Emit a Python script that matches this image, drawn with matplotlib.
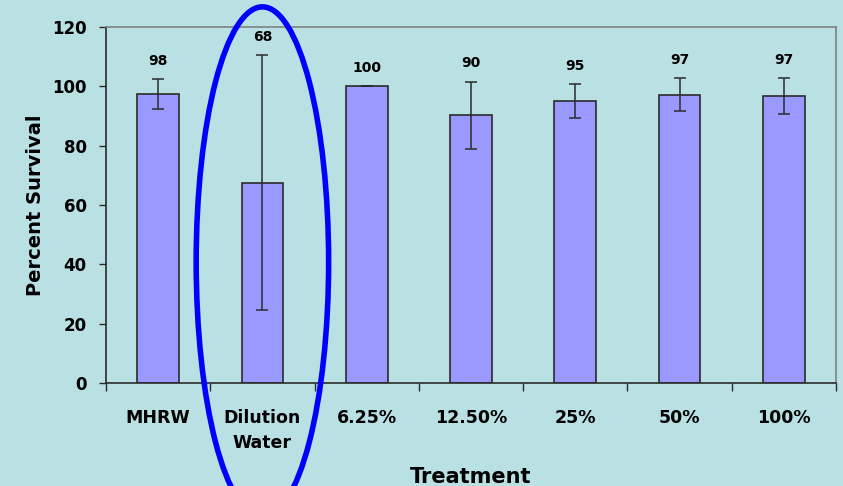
import matplotlib.pyplot as plt
import numpy as np
from matplotlib.patches import Ellipse

# data
categories = ["MHRW", "Dilution\nWater", "6.25%", "12.50%", "25%", "50%", "100%"]
survival = [97.5, 67.5, 100.0, 90.2, 95.1, 97.2, 96.8]
error = [5.0, 43.0, 0.0, 11.4, 5.8, 5.5, 6.0]
value_labels = ["98", "68", "100", "90", "95", "97", "97"]
y_ticks = [0, 20, 40, 60, 80, 100, 120]

bg = "#B9E0E2"
bar_color = "#9999FF"
dark = "#2B2B2B"

plt.rcParams["font.family"] = ["DejaVu Sans"]

fig = plt.figure(figsize=(8.43, 4.86), dpi=100)
fig.patch.set_facecolor(bg)
ax = fig.add_axes([0.1257, 0.2119, 0.866, 0.7325])
ax.set_facecolor(bg)

x = np.arange(len(categories))
ax.bar(x, survival, width=0.4, color=bar_color, edgecolor=dark, linewidth=1.2, zorder=2)
ax.errorbar(x, survival, yerr=error, fmt="none", ecolor=dark, elinewidth=1.1,
            capsize=4, capthick=1.1, zorder=3)

for xi, top, lab in zip(x, np.array(survival) + np.array(error), value_labels):
    ax.annotate(lab, (xi, top), xytext=(0, 8), textcoords="offset points",
                ha="center", va="bottom", fontsize=10, fontweight="bold")

ax.set_xlim(-0.5, len(categories) - 0.5)
ax.set_ylim(0, 120)
ax.set_yticks(y_ticks)
ax.set_yticklabels([str(v) for v in y_ticks], fontsize=12, fontweight="bold")
ax.tick_params(axis="y", direction="out", length=5, width=1, color=dark, pad=9)

# boundary ticks on x, labels at the centres
ax.set_xticks(np.arange(len(categories) + 1) - 0.5)
ax.set_xticklabels([])
ax.tick_params(axis="x", which="major", direction="out", length=6, width=1, color=dark)
ax.set_xticks(x, minor=True)
ax.set_xticklabels(categories, minor=True, fontsize=12.5, fontweight="bold", linespacing=1.45)
ax.tick_params(axis="x", which="minor", length=0, pad=19)

for side in ["left", "bottom"]:
    ax.spines[side].set_color(dark)
    ax.spines[side].set_linewidth(1.2)
for side in ["top", "right"]:
    ax.spines[side].set_color("#808080")
    ax.spines[side].set_linewidth(1.2)

ax.set_ylabel("Percent Survival", fontsize=14, fontweight="bold", labelpad=5)
ax.set_xlabel("Treatment", fontsize=15, fontweight="bold", labelpad=11)

# blue ring highlighting the dilution water bar
ring = Ellipse((1, 40.8), width=1.27, height=172, fill=False, edgecolor="#0000FF",
               linewidth=4, clip_on=False, zorder=5)
ax.add_patch(ring)

fig.savefig("out.png", dpi=100, facecolor=bg)
